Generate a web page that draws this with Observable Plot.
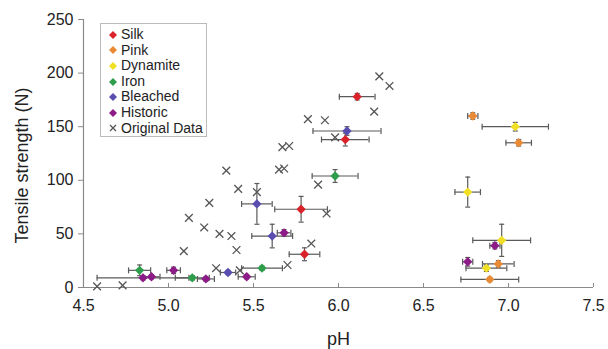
<!DOCTYPE html>
<html><head><meta charset="utf-8">
<script src="https://cdn.jsdelivr.net/npm/d3@7"></script>
<script src="https://cdn.jsdelivr.net/npm/@observablehq/plot@0.6"></script>
<style>
body{margin:0;background:#fff;font-family:"Liberation Sans",Arial,sans-serif;}
#wrap{position:relative;width:608px;height:349px;}
#legend{position:absolute;left:100px;top:23px;width:107px;height:114px;border:1px solid #bbb;background:#fff;box-sizing:border-box;padding:3px 0 0 7px;font-size:14px;line-height:15.6px;color:#222}
#legend div{display:flex;align-items:center;white-space:nowrap}
#legend svg{margin-right:3px}
</style></head><body><div id="wrap"><div id="legend"></div></div>
<script>
// series names and colours
const seriesNames = ["Silk", "Pink", "Dynamite", "Iron", "Bleached", "Historic"];
const seriesColors = ["#d9232a", "#e98a35", "#f0df22", "#2f9e4c", "#5a4db0", "#8c1b88"];
// each row: [pH, tensile strength N, pH error, strength error]
const silk = [[6.11, 178, 0.105, 3], [6.04, 138, 0.14, 6], [5.78, 73, 0.155, 12], [5.80, 31, 0.09, 6]];
const pink = [[6.79, 160, 0.03, 3], [7.06, 135, 0.075, 3], [6.94, 22, 0.093, 3], [6.89, 7.5, 0.17, 2]];
const dynamite = [[7.04, 150, 0.195, 4], [6.76, 89, 0.075, 14], [6.96, 44, 0.17, 15], [6.87, 18, 0.12, 3]];
const iron = [[5.98, 104, 0.135, 6], [5.55, 18, 0.12, 2], [5.14, 9, 0.1, 2], [4.83, 16, 0.065, 5]];
const bleached = [[6.05, 146, 0.2, 4], [5.52, 78, 0.09, 19], [5.61, 48, 0.12, 11], [5.35, 14, 0.045, 2]];
const historic = [[6.92, 39, 0.03, 3], [6.76, 24, 0.03, 4], [5.68, 51, 0.04, 3], [5.46, 10, 0.05, 2],
  [5.22, 8, 0.05, 2], [5.03, 16, 0.04, 3], [4.85, 9, 0.27, 2], [4.90, 10, 0.05, 2]];
// original data: pH and strength
const origPH = [4.58, 4.73, 5.09, 5.40, 5.28, 5.42, 5.70, 5.12, 5.24, 5.21, 5.30, 5.37, 5.34, 5.41, 5.52,
  5.68, 5.65, 5.67, 5.71, 5.82, 5.92, 5.98, 6.21, 6.24, 6.30, 5.88, 5.93, 5.84];
const origN = [1, 2, 34, 35, 18, 16, 21, 65, 79, 56, 50, 48, 109, 92, 89,
  111, 110, 131, 132, 157, 156, 140, 164, 197, 188, 96, 69, 41];
// axis ticks
const xTicks = [4.5, 5.0, 5.5, 6.0, 6.5, 7.0, 7.5];
const yTicks = [0, 50, 100, 150, 200, 250];

const groups = [silk, pink, dynamite, iron, bleached, historic];
const rows = groups.flatMap((g, i) => g.map(([ph, n, ex, ey]) => ({s: seriesNames[i], ph, n, ex, ey})));
const orig = origPH.map((ph, i) => ({ph, n: origN[i]}));

const vcap = {draw(ctx, size) { const r = Math.sqrt(size / Math.PI); ctx.moveTo(0, -r); ctx.lineTo(0, r); }};
const hcap = {draw(ctx, size) { const r = Math.sqrt(size / Math.PI); ctx.moveTo(-r, 0); ctx.lineTo(r, 0); }};
const ebColor = "#5a5a5a";

const chart = Plot.plot({
  width: 608, height: 349,
  marginLeft: 83, marginRight: 15, marginTop: 19, marginBottom: 62,
  style: {fontFamily: '"Liberation Sans", Arial, sans-serif', background: "#fff", color: "#222"},
  x: {domain: [4.5, 7.5]},
  y: {domain: [0, 250]},
  color: {domain: seriesNames, range: seriesColors},
  marks: [
    Plot.ruleY([0], {stroke: "#8a8a8a", strokeWidth: 1.2}),
    Plot.ruleX([4.5], {stroke: "#8a8a8a", strokeWidth: 1.2}),
    Plot.axisY({ticks: yTicks, tickSize: 5, tickPadding: 5, stroke: "#8a8a8a", fontSize: 16, label: null}),
    Plot.axisX({ticks: xTicks, tickSize: -4, stroke: "#8a8a8a", tickFormat: () => "", label: null}),
    Plot.axisX({ticks: xTicks, tickSize: 0, tickPadding: 12, fontSize: 16, tickFormat: d3.format(".1f"), label: null}),
    Plot.text(["Tensile strength (N)"], {frameAnchor: "left", textAnchor: "middle", dx: -61, dy: 12, rotate: -90, fontSize: 18, fill: "#222"}),
    Plot.text(["pH"], {frameAnchor: "bottom", dy: 57, fontSize: 18, fill: "#222"}),
    Plot.dot(orig, {x: "ph", y: "n", symbol: "times", r: 3.6, stroke: "#555", strokeWidth: 1.3}),
    Plot.ruleY(rows, {y: "n", x1: d => d.ph - d.ex, x2: d => d.ph + d.ex, stroke: ebColor, strokeWidth: 1.2}),
    Plot.ruleX(rows, {x: "ph", y1: d => d.n - d.ey, y2: d => d.n + d.ey, stroke: ebColor, strokeWidth: 1.2}),
    Plot.dot(rows, {x: d => d.ph - d.ex, y: "n", symbol: vcap, r: 3, fill: "none", stroke: ebColor, strokeWidth: 1.2}),
    Plot.dot(rows, {x: d => d.ph + d.ex, y: "n", symbol: vcap, r: 3, fill: "none", stroke: ebColor, strokeWidth: 1.2}),
    Plot.dot(rows, {x: "ph", y: d => d.n - d.ey, symbol: hcap, r: 2.5, fill: "none", stroke: ebColor, strokeWidth: 1.2}),
    Plot.dot(rows, {x: "ph", y: d => d.n + d.ey, symbol: hcap, r: 2.5, fill: "none", stroke: ebColor, strokeWidth: 1.2}),
    Plot.dot(rows, {x: "ph", y: "n", symbol: "diamond2", r: 4.2, fill: "s", stroke: "none"})
  ]
});
document.getElementById("wrap").prepend(chart);

// legend
const legend = document.getElementById("legend");
seriesNames.forEach((name, i) => {
  const row = document.createElement("div");
  row.innerHTML = `<svg width="10" height="10" viewBox="-5 -5 10 10"><path d="M0,-4L4,0L0,4L-4,0Z" fill="${seriesColors[i]}"/></svg><span>${name}</span>`;
  legend.appendChild(row);
});
const orow = document.createElement("div");
orow.innerHTML = `<svg width="10" height="10" viewBox="-5 -5 10 10"><path d="M-3,-3L3,3M3,-3L-3,3" stroke="#555" stroke-width="1.3"/></svg><span>Original Data</span>`;
legend.appendChild(orow);
</script>
</body></html>
